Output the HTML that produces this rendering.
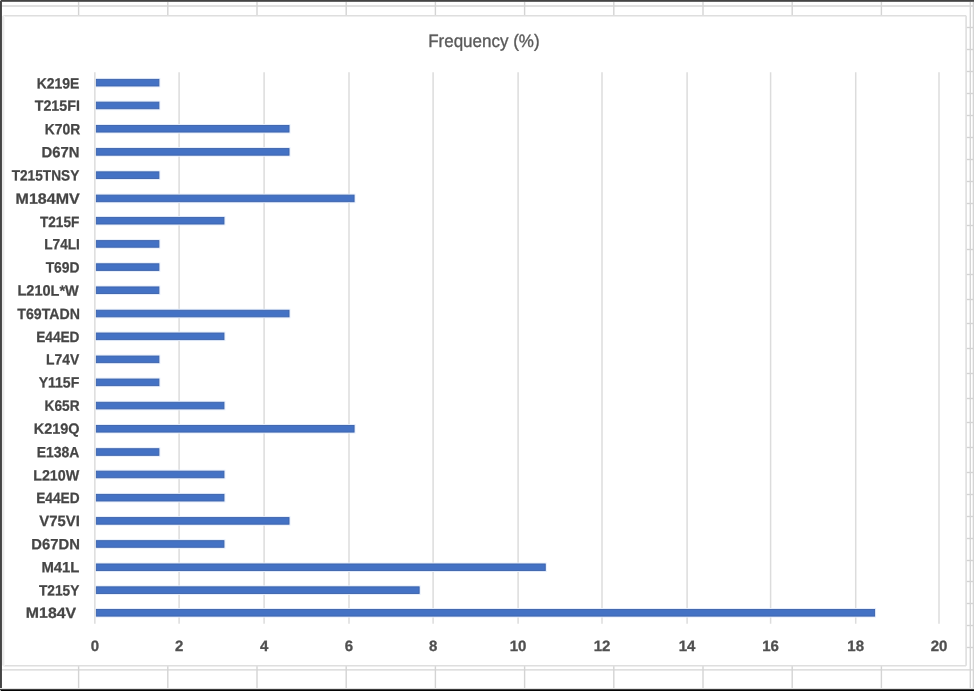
<!DOCTYPE html>
<html><head><meta charset="utf-8"><title>Frequency (%)</title><style>
html,body{margin:0;padding:0;background:#fff;width:974px;height:691px;overflow:hidden}
svg{display:block}
.t{filter:grayscale(1) blur(0.35px);text-rendering:geometricPrecision}
.t{font-family:"Liberation Sans",Arial,sans-serif}
</style></head><body>
<svg width="974" height="691" viewBox="0 0 974 691">
<rect x="0" y="0" width="974" height="691" fill="#fff"/>
<g stroke="#d4d4d4" stroke-width="1.4" fill="none">
<line x1="2" y1="6.0" x2="974" y2="6.0"/>
<line x1="2" y1="669.9" x2="974" y2="669.9"/>
<line x1="78.6" y1="2" x2="78.6" y2="15.8"/>
<line x1="78.6" y1="665.7" x2="78.6" y2="689"/>
<line x1="167.8" y1="2" x2="167.8" y2="15.8"/>
<line x1="167.8" y1="665.7" x2="167.8" y2="689"/>
<line x1="257.0" y1="2" x2="257.0" y2="15.8"/>
<line x1="257.0" y1="665.7" x2="257.0" y2="689"/>
<line x1="346.2" y1="2" x2="346.2" y2="15.8"/>
<line x1="346.2" y1="665.7" x2="346.2" y2="689"/>
<line x1="435.4" y1="2" x2="435.4" y2="15.8"/>
<line x1="435.4" y1="665.7" x2="435.4" y2="689"/>
<line x1="524.6" y1="2" x2="524.6" y2="15.8"/>
<line x1="524.6" y1="665.7" x2="524.6" y2="689"/>
<line x1="613.8" y1="2" x2="613.8" y2="15.8"/>
<line x1="613.8" y1="665.7" x2="613.8" y2="689"/>
<line x1="703.0" y1="2" x2="703.0" y2="15.8"/>
<line x1="703.0" y1="665.7" x2="703.0" y2="689"/>
<line x1="792.2" y1="2" x2="792.2" y2="15.8"/>
<line x1="792.2" y1="665.7" x2="792.2" y2="689"/>
<line x1="881.4" y1="2" x2="881.4" y2="15.8"/>
<line x1="881.4" y1="665.7" x2="881.4" y2="689"/>
<line x1="970.3" y1="2" x2="970.3" y2="689"/>
<line x1="973.4" y1="2" x2="973.4" y2="689"/>
<line x1="966.1" y1="27.5" x2="974" y2="27.5"/>
<line x1="966.1" y1="49.5" x2="974" y2="49.5"/>
<line x1="966.1" y1="71.5" x2="974" y2="71.5"/>
<line x1="966.1" y1="93.5" x2="974" y2="93.5"/>
<line x1="966.1" y1="115.5" x2="974" y2="115.5"/>
<line x1="966.1" y1="137.5" x2="974" y2="137.5"/>
<line x1="966.1" y1="159.5" x2="974" y2="159.5"/>
<line x1="966.1" y1="181.5" x2="974" y2="181.5"/>
<line x1="966.1" y1="203.5" x2="974" y2="203.5"/>
<line x1="966.1" y1="225.5" x2="974" y2="225.5"/>
<line x1="966.1" y1="249.5" x2="974" y2="249.5"/>
<line x1="966.1" y1="274.5" x2="974" y2="274.5"/>
<line x1="966.1" y1="299.5" x2="974" y2="299.5"/>
<line x1="966.1" y1="323.5" x2="974" y2="323.5"/>
<line x1="966.1" y1="348.5" x2="974" y2="348.5"/>
<line x1="966.1" y1="373.5" x2="974" y2="373.5"/>
<line x1="966.1" y1="398.5" x2="974" y2="398.5"/>
<line x1="966.1" y1="422.5" x2="974" y2="422.5"/>
<line x1="966.1" y1="447.5" x2="974" y2="447.5"/>
<line x1="966.1" y1="472.5" x2="974" y2="472.5"/>
<line x1="966.1" y1="494.5" x2="974" y2="494.5"/>
<line x1="966.1" y1="516.5" x2="974" y2="516.5"/>
<line x1="966.1" y1="538.5" x2="974" y2="538.5"/>
<line x1="966.1" y1="560.5" x2="974" y2="560.5"/>
<line x1="966.1" y1="581.5" x2="974" y2="581.5"/>
<line x1="966.1" y1="603.5" x2="974" y2="603.5"/>
<line x1="966.1" y1="625.5" x2="974" y2="625.5"/>
<line x1="966.1" y1="647.5" x2="974" y2="647.5"/>
</g>
<rect x="3.4" y="15.8" width="962.7" height="649.9000000000001" fill="#fff"/>
<g stroke="#dedede" stroke-width="1.6">
<line x1="3.4" y1="15.8" x2="966.1" y2="15.8"/>
<line x1="3.4" y1="665.7" x2="966.1" y2="665.7"/>
<line x1="966.1" y1="15.8" x2="966.1" y2="665.7"/>
</g>
<rect x="2" y="15.8" width="2" height="649.9000000000001" fill="#ebebeb"/>
<rect x="4" y="15.8" width="1" height="649.9000000000001" fill="#f7f7f7"/>
<rect x="0" y="0" width="974" height="1" fill="#444"/>
<rect x="0" y="1" width="974" height="1" fill="#666"/>
<rect x="0" y="0" width="1" height="691" fill="#444"/>
<rect x="1" y="1" width="1" height="690" fill="#4c4c4c"/>
<rect x="0" y="688" width="974" height="1" fill="#e0e0e0"/>
<rect x="0" y="689" width="974" height="1" fill="#3a3a3a"/>
<rect x="0" y="690" width="974" height="1" fill="#050505"/>
<rect x="0" y="0" width="1" height="1" fill="#bbb"/>
<rect x="0" y="690" width="1" height="1" fill="#aaa"/>
<text class="t" x="483.87" y="46.6" font-size="18" fill="#595959" stroke="#595959" stroke-width="0.35" text-anchor="middle" textLength="111.42" lengthAdjust="spacingAndGlyphs" transform="rotate(0.05 483.87 46.6)">Frequency (%)</text>
<g stroke="#dcdcdc" stroke-width="1.5">
<line x1="94.85" y1="72.3" x2="94.85" y2="623.7"/>
<line x1="179.10" y1="72.3" x2="179.10" y2="623.7"/>
<line x1="264.10" y1="72.3" x2="264.10" y2="623.7"/>
<line x1="349.00" y1="72.3" x2="349.00" y2="623.7"/>
<line x1="433.10" y1="72.3" x2="433.10" y2="623.7"/>
<line x1="518.10" y1="72.3" x2="518.10" y2="623.7"/>
<line x1="602.00" y1="72.3" x2="602.00" y2="623.7"/>
<line x1="687.10" y1="72.3" x2="687.10" y2="623.7"/>
<line x1="770.60" y1="72.3" x2="770.60" y2="623.7"/>
<line x1="855.70" y1="72.3" x2="855.70" y2="623.7"/>
<line x1="939.00" y1="72.3" x2="939.00" y2="623.7"/>
</g>
<g fill="#e6eefb">
<rect x="95.90" y="77.93" width="64.44" height="9.50"/>
<rect x="95.90" y="100.69" width="64.44" height="9.50"/>
<rect x="95.90" y="124.01" width="194.57" height="9.50"/>
<rect x="95.90" y="147.13" width="194.57" height="9.50"/>
<rect x="95.90" y="170.40" width="64.44" height="9.50"/>
<rect x="95.90" y="193.66" width="259.63" height="9.50"/>
<rect x="95.90" y="215.97" width="129.50" height="9.50"/>
<rect x="95.90" y="239.17" width="64.44" height="9.50"/>
<rect x="95.90" y="262.35" width="64.44" height="9.50"/>
<rect x="95.90" y="285.49" width="64.44" height="9.50"/>
<rect x="95.90" y="308.79" width="194.57" height="9.50"/>
<rect x="95.90" y="331.58" width="129.50" height="9.50"/>
<rect x="95.90" y="354.60" width="64.44" height="9.50"/>
<rect x="95.90" y="377.60" width="64.44" height="9.50"/>
<rect x="95.90" y="400.83" width="129.50" height="9.50"/>
<rect x="95.90" y="424.04" width="259.63" height="9.50"/>
<rect x="95.90" y="447.27" width="64.44" height="9.50"/>
<rect x="95.90" y="469.70" width="129.50" height="9.50"/>
<rect x="95.90" y="492.94" width="129.50" height="9.50"/>
<rect x="95.90" y="516.14" width="194.57" height="9.50"/>
<rect x="95.90" y="539.23" width="129.50" height="9.50"/>
<rect x="95.90" y="562.52" width="450.80" height="9.50"/>
<rect x="95.90" y="585.40" width="324.70" height="9.50"/>
<rect x="95.90" y="608.06" width="780.16" height="9.50"/>
</g>
<g fill="#4472c4" stroke="#3b62ab" stroke-width="0.9">
<rect x="96.35" y="79.38" width="62.54" height="6.60"/>
<rect x="96.35" y="102.14" width="62.54" height="6.60"/>
<rect x="96.35" y="125.46" width="192.67" height="6.60"/>
<rect x="96.35" y="148.58" width="192.67" height="6.60"/>
<rect x="96.35" y="171.85" width="62.54" height="6.60"/>
<rect x="96.35" y="195.11" width="257.73" height="6.60"/>
<rect x="96.35" y="217.42" width="127.60" height="6.60"/>
<rect x="96.35" y="240.62" width="62.54" height="6.60"/>
<rect x="96.35" y="263.80" width="62.54" height="6.60"/>
<rect x="96.35" y="286.94" width="62.54" height="6.60"/>
<rect x="96.35" y="310.24" width="192.67" height="6.60"/>
<rect x="96.35" y="333.03" width="127.60" height="6.60"/>
<rect x="96.35" y="356.05" width="62.54" height="6.60"/>
<rect x="96.35" y="379.05" width="62.54" height="6.60"/>
<rect x="96.35" y="402.28" width="127.60" height="6.60"/>
<rect x="96.35" y="425.49" width="257.73" height="6.60"/>
<rect x="96.35" y="448.72" width="62.54" height="6.60"/>
<rect x="96.35" y="471.15" width="127.60" height="6.60"/>
<rect x="96.35" y="494.39" width="127.60" height="6.60"/>
<rect x="96.35" y="517.59" width="192.67" height="6.60"/>
<rect x="96.35" y="540.68" width="127.60" height="6.60"/>
<rect x="96.35" y="563.97" width="448.90" height="6.60"/>
<rect x="96.35" y="586.85" width="322.80" height="6.60"/>
<rect x="96.35" y="609.51" width="778.26" height="6.60"/>
</g>
<g class="t" font-size="14.9" font-weight="bold" fill="#454545" stroke="#454545" stroke-width="0.25" text-anchor="end">
<text x="79.41" y="88.46" textLength="42.62" lengthAdjust="spacingAndGlyphs" transform="rotate(0.05 79.41 88.46)">K219E</text>
<text x="79.87" y="110.88" textLength="45.11" lengthAdjust="spacingAndGlyphs" transform="rotate(0.05 79.87 110.88)">T215FI</text>
<text x="80.17" y="134.21" textLength="35.39" lengthAdjust="spacingAndGlyphs" transform="rotate(0.05 80.17 134.21)">K70R</text>
<text x="79.40" y="157.23" textLength="37.97" lengthAdjust="spacingAndGlyphs" transform="rotate(0.05 79.40 157.23)">D67N</text>
<text x="79.27" y="180.52" textLength="67.6" lengthAdjust="spacingAndGlyphs" transform="rotate(0.05 79.27 180.52)">T215TNSY</text>
<text x="79.73" y="203.75" textLength="64.09" lengthAdjust="spacingAndGlyphs" transform="rotate(0.05 79.73 203.75)">M184MV</text>
<text x="79.33" y="226.95" textLength="39.36" lengthAdjust="spacingAndGlyphs" transform="rotate(0.05 79.33 226.95)">T215F</text>
<text x="79.91" y="249.29" textLength="35.67" lengthAdjust="spacingAndGlyphs" transform="rotate(0.05 79.91 249.29)">L74LI</text>
<text x="79.55" y="272.58" textLength="33.9" lengthAdjust="spacingAndGlyphs" transform="rotate(0.05 79.55 272.58)">T69D</text>
<text x="78.75" y="295.67" textLength="61.3" lengthAdjust="spacingAndGlyphs" transform="rotate(0.05 78.75 295.67)">L210L*W</text>
<text x="79.91" y="319.01" textLength="62.56" lengthAdjust="spacingAndGlyphs" transform="rotate(0.05 79.91 319.01)">T69TADN</text>
<text x="79.50" y="341.94" textLength="43.34" lengthAdjust="spacingAndGlyphs" transform="rotate(0.05 79.50 341.94)">E44ED</text>
<text x="79.20" y="364.43" textLength="33.19" lengthAdjust="spacingAndGlyphs" transform="rotate(0.05 79.20 364.43)">L74V</text>
<text x="79.30" y="387.58" textLength="40.67" lengthAdjust="spacingAndGlyphs" transform="rotate(0.05 79.30 387.58)">Y115F</text>
<text x="79.56" y="410.89" textLength="35.0" lengthAdjust="spacingAndGlyphs" transform="rotate(0.05 79.56 410.89)">K65R</text>
<text x="79.63" y="433.89" textLength="45.81" lengthAdjust="spacingAndGlyphs" transform="rotate(0.05 79.63 433.89)">K219Q</text>
<text x="79.43" y="457.31" textLength="42.73" lengthAdjust="spacingAndGlyphs" transform="rotate(0.05 79.43 457.31)">E138A</text>
<text x="79.19" y="480.45" textLength="46.03" lengthAdjust="spacingAndGlyphs" transform="rotate(0.05 79.19 480.45)">L210W</text>
<text x="79.55" y="502.94" textLength="43.31" lengthAdjust="spacingAndGlyphs" transform="rotate(0.05 79.55 502.94)">E44ED</text>
<text x="79.83" y="526.06" textLength="40.46" lengthAdjust="spacingAndGlyphs" transform="rotate(0.05 79.83 526.06)">V75VI</text>
<text x="79.87" y="549.37" textLength="48.51" lengthAdjust="spacingAndGlyphs" transform="rotate(0.05 79.87 549.37)">D67DN</text>
<text x="79.47" y="572.30" textLength="38.06" lengthAdjust="spacingAndGlyphs" transform="rotate(0.05 79.47 572.30)">M41L</text>
<text x="79.40" y="595.59" textLength="40.41" lengthAdjust="spacingAndGlyphs" transform="rotate(0.05 79.40 595.59)">T215Y</text>
<text x="76.15" y="617.91" textLength="50.27" lengthAdjust="spacingAndGlyphs" transform="rotate(0.05 76.15 617.91)">M184V</text>
</g>
<g class="t" font-size="15" font-weight="bold" fill="#505050" stroke="#505050" stroke-width="0.3" text-anchor="middle">
<text x="94.85" y="651" transform="rotate(0.05 94.85 651)">0</text>
<text x="179.10" y="651" transform="rotate(0.05 179.10 651)">2</text>
<text x="264.10" y="651" transform="rotate(0.05 264.10 651)">4</text>
<text x="349.00" y="651" transform="rotate(0.05 349.00 651)">6</text>
<text x="433.10" y="651" transform="rotate(0.05 433.10 651)">8</text>
<text x="518.10" y="651" transform="rotate(0.05 518.10 651)">10</text>
<text x="602.00" y="651" transform="rotate(0.05 602.00 651)">12</text>
<text x="687.10" y="651" transform="rotate(0.05 687.10 651)">14</text>
<text x="770.60" y="651" transform="rotate(0.05 770.60 651)">16</text>
<text x="855.70" y="651" transform="rotate(0.05 855.70 651)">18</text>
<text x="939.00" y="651" transform="rotate(0.05 939.00 651)">20</text>
</g>
</svg>
</body></html>
